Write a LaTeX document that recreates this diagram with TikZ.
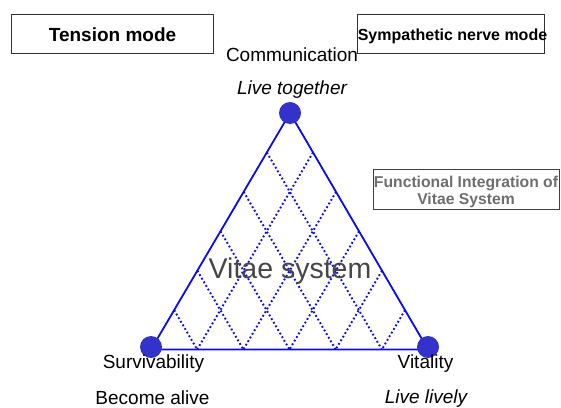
\documentclass[tikz,border=0pt]{standalone}
\usepackage{fontspec}
\setmainfont{Liberation Sans}
\usetikzlibrary{calc}
\definecolor{dotblue}{RGB}{51,51,204}
\definecolor{lineblue}{RGB}{10,10,240}
\definecolor{greytext}{RGB}{110,110,110}
\definecolor{darkgrey}{RGB}{70,70,70}
\tikzset{
  lbl/.style={font=\fontsize{19}{22}\selectfont, inner sep=0pt},
  ilbl/.style={font=\fontsize{19}{22}\selectfont\itshape, inner sep=0pt},
  modebox/.style={draw=black!80, line width=0.8pt, inner sep=0pt},
  vertexdot/.style={circle, fill=dotblue, minimum size=22pt, inner sep=0pt},
  side/.style={draw=lineblue, line width=1.8pt},
  gridline/.style={draw=lineblue, line width=1.9pt, dash pattern=on 1.8pt off 2.4pt},
}
\begin{document}
\begin{tikzpicture}[x=1pt,y=-1pt]
\useasboundingbox (0,0) rectangle (561,407);
% boxes
\node[modebox, minimum width=202pt, minimum height=39pt] (tbox) at (112,33.5) {};
\node[font=\fontsize{19}{22}\selectfont\bfseries, inner sep=0pt] (tension) at (112.5,35) {Tension mode};
\node[modebox, minimum width=187pt, minimum height=39pt] (sbox) at (450.5,33.5) {};
\node[font=\fontsize{16}{19}\selectfont\bfseries, inner sep=0pt] (symp) at (452.5,36) {Sympathetic nerve mode};
\node[draw=black!75, line width=0.8pt, minimum width=186pt, minimum height=40pt, inner sep=0pt] (fbox) at (466,189) {};
\node[font=\fontsize{15.7}{16.5}\selectfont\bfseries, text=greytext, align=center, inner sep=0pt] (func) at (466,192) {Functional Integration of\\Vitae System};
% triangle
\coordinate (A) at (290,113);
\coordinate (B) at (151,349.5);
\coordinate (C) at (428,349.5);
\foreach \k in {1,...,5} {
  \draw[gridline] ($(A)!\k/6!(B)$) -- ($(B)!1-\k/6!(C)$);
  \draw[gridline] ($(A)!\k/6!(C)$) -- ($(B)!\k/6!(C)$);
}
\draw[side] (A) -- (B) -- (C) -- cycle;
\node[vertexdot] (top) at (290,113) {};
\node[vertexdot] (left) at (151,347) {};
\node[vertexdot] (right) at (428,347) {};
% labels
\node[font=\fontsize{28.5}{32}\selectfont, text=darkgrey, inner sep=0pt] (vitae) at (290,271) {Vitae system};
\node[lbl] (comm) at (292,55) {Communication};
\node[ilbl] (live) at (292,90) {Live together};
\node[lbl] (surv) at (153.5,364) {Survivability};
\node[lbl] (become) at (152.5,397.5) {Become alive};
\node[lbl] (vital) at (425.5,364) {Vitality};
\node[ilbl] (lively) at (426,399) {Live lively};
\end{tikzpicture}
\end{document}
